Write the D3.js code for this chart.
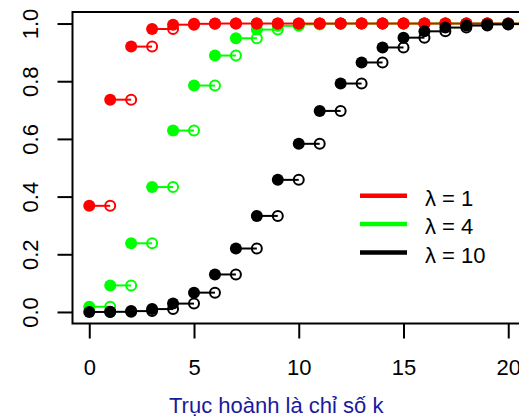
<!DOCTYPE html>
<meta charset="utf-8">
<style>
body{margin:0;background:#fff;}
text{font-family:"Liberation Sans",Arial,sans-serif;}
</style>
<body>
<script src="https://d3js.org/d3.v7.min.js"></script>
<script>
// k values and cumulative probabilities
var ks = d3.range(0, 21);
var cdfL1 = [0.368, 0.736, 0.920, 0.981, 0.996, 0.999, 1, 1, 1, 1, 1, 1, 1, 1, 1, 1, 1, 1, 1, 1, 1];
var cdfL4 = [0.018, 0.092, 0.238, 0.433, 0.629, 0.785, 0.889, 0.949, 0.979, 0.992, 0.997, 0.999, 1, 1, 1, 1, 1, 1, 1, 1, 1];
var cdfL10 = [0.000, 0.0005, 0.003, 0.010, 0.029, 0.067, 0.130, 0.220, 0.333, 0.458, 0.583, 0.697, 0.792, 0.865, 0.917, 0.951, 0.973, 0.986, 0.993, 0.997, 0.998];
var legendLabels = ["λ = 1", "λ = 4", "λ = 10"];
var colors = ["#ff0000", "#00ff00", "#000000"];
var xTicks = [0, 5, 10, 15, 20];
var yTicks = [0, 0.2, 0.4, 0.6, 0.8, 1.0];
var xTitle = "Trục hoành là chỉ số k";

var w = 519, h = 417;
var svg = d3.select("body").append("svg")
  .attr("width", w).attr("height", h);

var x = d3.scaleLinear().domain([-0.8, 20.8]).range([72.5, 525]);
var y = d3.scaleLinear().domain([-0.04, 1.04]).range([323.5, 12]);

var series = [
  {name: legendLabels[0], color: colors[0], vals: cdfL1},
  {name: legendLabels[1], color: colors[1], vals: cdfL4},
  {name: legendLabels[2], color: colors[2], vals: cdfL10}
];

// green first, then red, black on top
var drawOrder = [series[1], series[0], series[2]];

drawOrder.forEach(function(s) {
  var g = svg.append("g");
  var pts = ks.map(function(k, i) { return {k: k, v: s.vals[i]}; });

  g.selectAll("line")
    .data(pts)
    .enter().append("line")
    .attr("x1", function(d) { return x(d.k); })
    .attr("x2", function(d) { return x(d.k + 1); })
    .attr("y1", function(d) { return y(d.v); })
    .attr("y2", function(d) { return y(d.v); })
    .attr("stroke", s.color)
    .attr("stroke-width", 2);

  g.selectAll("circle.open")
    .data(pts)
    .enter().append("circle")
    .attr("class", "open")
    .attr("cx", function(d) { return x(d.k + 1); })
    .attr("cy", function(d) { return y(d.v); })
    .attr("r", 5)
    .attr("fill", "none")
    .attr("stroke", s.color)
    .attr("stroke-width", 2);

  g.selectAll("circle.full")
    .data(pts)
    .enter().append("circle")
    .attr("class", "full")
    .attr("cx", function(d) { return x(d.k); })
    .attr("cy", function(d) { return y(d.v); })
    .attr("r", 6)
    .attr("fill", s.color);
});

// frame
svg.append("rect")
  .attr("x", x.range()[0]).attr("y", y.range()[1])
  .attr("width", x.range()[1] - x.range()[0])
  .attr("height", y.range()[0] - y.range()[1])
  .attr("fill", "none").attr("stroke", "#000").attr("stroke-width", 2);

// x axis
var xAxis = svg.append("g")
  .attr("transform", "translate(0," + y.range()[0] + ")")
  .call(d3.axisBottom(x).tickValues(xTicks).tickSize(15).tickPadding(21).tickFormat(d3.format("d")));
xAxis.select(".domain").remove();
xAxis.selectAll("line").attr("stroke-width", 2);
xAxis.selectAll("text").style("font-size", "22px").attr("fill", "#000")
  .attr("dy", "0.71em");

// y axis
var yAxis = svg.append("g")
  .attr("transform", "translate(" + x.range()[0] + ",0)")
  .call(d3.axisLeft(y).tickValues(yTicks).tickSize(15).tickFormat(d3.format(".1f")));
yAxis.select(".domain").remove();
yAxis.selectAll("line").attr("stroke-width", 2);
yAxis.selectAll("text").remove();
yAxis.selectAll(".tick").append("text")
  .attr("transform", "translate(-34.5,0) rotate(-90)")
  .attr("text-anchor", "middle")
  .attr("fill", "#000")
  .style("font-size", "22px")
  .text(function(d) { return d3.format(".1f")(d); });

// legend
var leg = svg.append("g").selectAll("g")
  .data(series)
  .enter().append("g")
  .attr("transform", function(d, i) { return "translate(360," + (195.7 + i * 28.4) + ")"; });
leg.append("line")
  .attr("x1", 0).attr("x2", 47)
  .attr("stroke", function(d) { return d.color; })
  .attr("stroke-width", 4.5);
leg.append("text")
  .attr("x", 65).attr("y", 10)
  .style("font-size", "22px")
  .attr("fill", "#000")
  .text(function(d) { return d.name; });

// title under the axis
svg.append("text")
  .attr("x", 169).attr("y", 413)
  .style("font-size", "22px")
  .attr("fill", "#1a1a9e")
  .text(xTitle);
</script>
</body>
